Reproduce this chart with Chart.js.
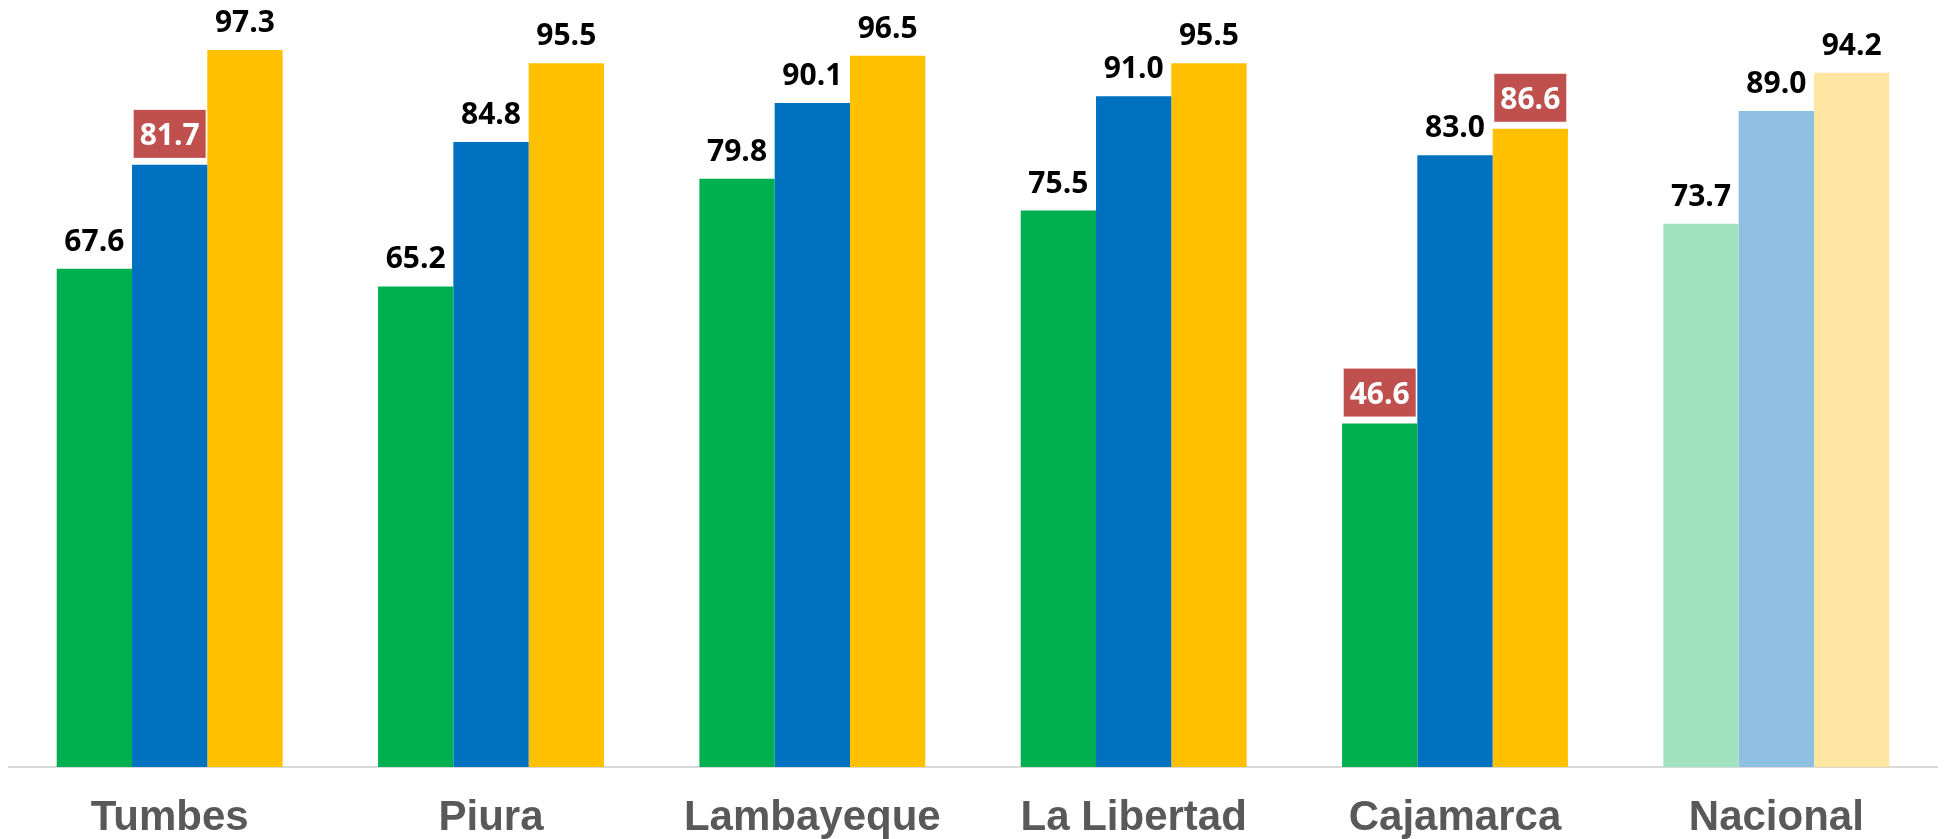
<!DOCTYPE html>
<html>
<head>
<meta charset="utf-8">
<script src="https://cdn.jsdelivr.net/npm/chart.js@4.4.1/dist/chart.umd.min.js"></script>
<style>
  html, body { margin: 0; padding: 0; background: #ffffff; }
  canvas { display: block; }
</style>
</head>
<body>
<canvas id="c" width="1944" height="839"></canvas>
<script>
// ---- Data ----
const categories = ["Tumbes", "Piura", "Lambayeque", "La Libertad", "Cajamarca", "Nacional"];
const series1 = [67.6, 65.2, 79.8, 75.5, 46.6, 73.7];
const series2 = [81.7, 84.8, 90.1, 91.0, 83.0, 89.0];
const series3 = [97.3, 95.5, 96.5, 95.5, 86.6, 94.2];
// highlighted labels (red box): [seriesIndex, categoryIndex]
const highlighted = [[1, 0], [0, 4], [2, 4]];

// ---- Styles ----
const baseColors = ["#00B050", "#0070C0", "#FFC000"];
const lightColors = ["#A0E1BE", "#8FBFE3", "#FFE6A2"];
const lastIdx = categories.length - 1;
function colorsFor(s) {
  return categories.map((c, i) => i === lastIdx ? lightColors[s] : baseColors[s]);
}

const labelFont = "bold 30px 'Open Sans', 'Liberation Sans', sans-serif";

const labelPlugin = {
  id: 'valueLabels',
  afterDatasetsDraw(chart) {
    const ctx = chart.ctx;
    ctx.save();
    ctx.font = labelFont;
    ctx.textAlign = 'center';
    ctx.textBaseline = 'alphabetic';
    chart.data.datasets.forEach((ds, si) => {
      const meta = chart.getDatasetMeta(si);
      meta.data.forEach((bar, ci) => {
        const v = ds.data[ci];
        const txt = v.toFixed(1);
        const isHi = highlighted.some(h => h[0] === si && h[1] === ci);
        if (isHi) {
          const baseY = bar.y - 20;
          const w = 72;
          ctx.fillStyle = '#C0504D';
          ctx.fillRect(bar.x - w / 2, baseY - 35, w, 48);
          ctx.fillStyle = '#FFFFFF';
          ctx.fillText(txt, bar.x, baseY);
        } else {
          ctx.fillStyle = '#000000';
          ctx.fillText(txt, bar.x, bar.y - 18);
        }
      });
    });
    ctx.restore();
  }
};

new Chart(document.getElementById('c'), {
  type: 'bar',
  data: {
    labels: categories,
    datasets: [
      { label: 'Serie 1', data: series1, backgroundColor: colorsFor(0), borderWidth: 0 },
      { label: 'Serie 2', data: series2, backgroundColor: colorsFor(1), borderWidth: 0 },
      { label: 'Serie 3', data: series3, backgroundColor: colorsFor(2), borderWidth: 0 }
    ]
  },
  options: {
    responsive: false,
    animation: false,
    devicePixelRatio: 1,
    layout: { padding: { left: 9, right: 7, top: 30, bottom: 0 } },
    plugins: { legend: { display: false }, tooltip: { enabled: false } },
    datasets: { bar: { barPercentage: 1.0, categoryPercentage: 0.703 } },
    scales: {
      x: {
        grid: { display: false, drawTicks: false },
        border: { display: true, color: '#D9D9D9', width: 2 },
        afterFit(scale) { scale.height = 72; },
        ticks: {
          color: '#595959',
          padding: 26,
          font: { family: "'Liberation Sans', Arial, sans-serif", size: 42, weight: 'bold' }
        }
      },
      y: {
        display: false,
        min: 0,
        max: 100
      }
    }
  },
  plugins: [labelPlugin]
});
</script>
</body>
</html>
